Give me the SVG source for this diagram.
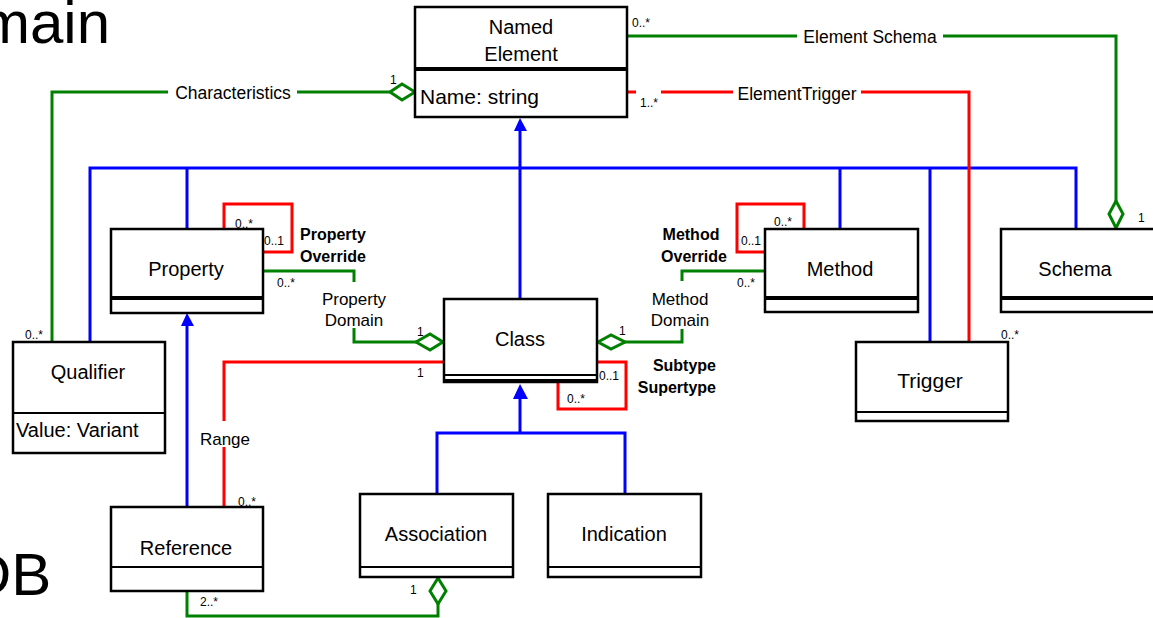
<svg xmlns="http://www.w3.org/2000/svg" width="1153" height="618" viewBox="0 0 1153 618">
<style>
.box{fill:#fff;stroke:#000;stroke-width:2.5}
.div{stroke:#000;stroke-width:4}
.thin{stroke:#000;stroke-width:2}
.n{font-family:"Liberation Sans",Arial,sans-serif;font-size:20px;fill:#000}
.c{text-anchor:middle}
.lbl{font-family:"Liberation Sans",Arial,sans-serif;font-size:17px;fill:#000}
.bold{font-family:"Liberation Sans",Arial,sans-serif;font-size:16px;font-weight:bold;fill:#000}
.m{font-family:"Liberation Sans",Arial,sans-serif;font-size:12px;fill:#000}
.bg{font-family:"Liberation Sans",Arial,sans-serif;font-size:60px;fill:#000}
.g{fill:none;stroke:#008000;stroke-width:3}
.r{fill:none;stroke:#ff0000;stroke-width:3}
.b{fill:none;stroke:#0000ff;stroke-width:3}
.dia{fill:#fff;stroke:#008000;stroke-width:3}
.arr{fill:#0000ff;stroke:none}
</style>

<text class="bg" x="-20" y="43">main</text>
<text class="bg" x="-32" y="595">DB</text>

<g id="connectors">
  <!-- generalization (blue) -->
  <polyline class="b" points="90,342 90,168 1076,168 1076,229"/>
  <line class="b" x1="187" y1="168" x2="187" y2="229"/>
  <line class="b" x1="840" y1="168" x2="840" y2="229"/>
  <line class="b" x1="930" y1="168" x2="930" y2="342"/>
  <line class="b" x1="520" y1="128" x2="520" y2="299"/>
  <polygon class="arr" points="520,118 514,131 527,131"/>
  <line class="b" x1="187" y1="324" x2="187" y2="507"/>
  <polygon class="arr" points="187,313 181,326 194,326"/>
  <polyline class="b" points="437,494 437,433 625,433 625,494"/>
  <line class="b" x1="520" y1="395" x2="520" y2="433"/>
  <polygon class="arr" points="520,384 513,399 528,399"/>

  <!-- Characteristics (green) -->
  <polyline class="g" points="52,342 52,92 168,92"/>
  <line class="g" x1="297" y1="92" x2="392" y2="92"/>
  <polygon class="dia" points="390,92 402,84 415,92 402,100"/>
  <text class="lbl" x="233" y="99" text-anchor="middle" style="font-size:17.5px">Characteristics</text>

  <!-- Element Schema (green) -->
  <line class="g" x1="627" y1="36" x2="797" y2="36"/>
  <polyline class="g" points="943,36 1116,36 1116,203"/>
  <polygon class="dia" points="1116,201 1123,214 1116,228 1109,214"/>
  <text class="lbl" x="870" y="43" text-anchor="middle" style="font-size:17.5px">Element Schema</text>

  <!-- Element Trigger (red) -->
  <line class="r" x1="627" y1="92" x2="636" y2="92"/>
  <line class="r" x1="661" y1="92" x2="733" y2="92"/>
  <polyline class="r" points="861,92 969,92 969,342"/>
  <text class="lbl" x="797" y="100" text-anchor="middle" style="font-size:17.5px">ElementTrigger</text>

  <!-- Property Override (red self loop) -->
  <polyline class="r" points="224,229 224,204 292,204 292,252 263,252"/>
  <!-- Method Override (red self loop) -->
  <polyline class="r" points="804,229 804,204 737,204 737,252 765,252"/>
  <!-- Subtype/Supertype (red self loop on Class) -->
  <polyline class="r" points="597,362 626,362 626,409 558,409 558,383"/>

  <!-- Property Domain (green) -->
  <polyline class="g" points="263,271 354,271 354,282"/>
  <polyline class="g" points="354,328 354,342 418,342"/>
  <polygon class="dia" points="416,342 430,334 443,342 430,350"/>
  <text class="lbl c" x="354" y="305">Property</text>
  <text class="lbl c" x="354" y="326">Domain</text>

  <!-- Method Domain (green) -->
  <polyline class="g" points="765,271 682,271 682,281"/>
  <polyline class="g" points="682,329 682,342 623,342"/>
  <polygon class="dia" points="598,342 611,335 625,342 611,349"/>
  <text class="lbl c" x="680" y="305">Method</text>
  <text class="lbl c" x="680" y="326">Domain</text>

  <!-- Range (red) -->
  <polyline class="r" points="444,362 224,362 224,421"/>
  <line class="r" x1="224" y1="447" x2="224" y2="507"/>
  <text class="lbl c" x="225" y="445">Range</text>

  <!-- Reference - Association (green) -->
  <polyline class="g" points="187,591 187,616 438,616 438,602"/>
  <polygon class="dia" points="438,578 446,591 438,604 430,591"/>

  <!-- bold role labels -->
  <text class="bold" x="300" y="240">Property</text>
  <text class="bold" x="300" y="262">Override</text>
  <text class="bold c" x="691" y="240">Method</text>
  <text class="bold c" x="694" y="262">Override</text>
  <text class="bold" x="716" y="371" text-anchor="end">Subtype</text>
  <text class="bold" x="716" y="393" text-anchor="end">Supertype</text>

  <!-- multiplicities -->
  <text class="m" x="632" y="27">0..*</text>
  <text class="m" x="640" y="107">1..*</text>
  <text class="m" x="390" y="84">1</text>
  <text class="m" x="235" y="228">0..*</text>
  <text class="m" x="264" y="245">0..1</text>
  <text class="m" x="277" y="287">0..*</text>
  <text class="m" x="417" y="336">1</text>
  <text class="m" x="417" y="377">1</text>
  <text class="m" x="741" y="245">0..1</text>
  <text class="m" x="774" y="226">0..*</text>
  <text class="m" x="737" y="287">0..*</text>
  <text class="m" x="619" y="335">1</text>
  <text class="m" x="599" y="380">0..1</text>
  <text class="m" x="567" y="403">0..*</text>
  <text class="m" x="1001" y="339">0..*</text>
  <text class="m" x="1138" y="222">1</text>
  <text class="m" x="25" y="339">0..*</text>
  <text class="m" x="238" y="506">0..*</text>
  <text class="m" x="200" y="606">2..*</text>
  <text class="m" x="410" y="594">1</text>
</g>

<g id="named-element">
  <rect class="box" x="415" y="7" width="212" height="110"/>
  <line class="div" x1="415" y1="69" x2="627" y2="69"/>
  <text class="n c" x="521" y="34">Named</text>
  <text class="n c" x="521" y="61">Element</text>
  <text class="n" x="420" y="104" style="font-size:21px">Name: string</text>
</g>

<g id="property">
  <rect class="box" x="111" y="229" width="152" height="84"/>
  <line class="div" x1="111" y1="298" x2="263" y2="298"/>
  <text class="n c" x="186" y="276">Property</text>
</g>

<g id="class">
  <rect class="box" x="444" y="299" width="153" height="83"/>
  <line class="thin" x1="444" y1="375" x2="597" y2="375"/>
  <line class="div" x1="444" y1="381" x2="597" y2="381"/>
  <text class="n c" x="520" y="346">Class</text>
</g>

<g id="method">
  <rect class="box" x="765" y="229" width="153" height="83"/>
  <line class="div" x1="765" y1="298" x2="918" y2="298"/>
  <text class="n c" x="840" y="276">Method</text>
</g>

<g id="schema">
  <rect class="box" x="1001" y="229" width="170" height="83"/>
  <line class="div" x1="1001" y1="298" x2="1171" y2="298"/>
  <text class="n c" x="1075" y="276">Schema</text>
</g>

<g id="trigger">
  <rect class="box" x="856" y="342" width="152" height="79"/>
  <line class="thin" x1="856" y1="412" x2="1008" y2="412"/>
  <text class="n c" x="930" y="388" style="font-size:21px">Trigger</text>
</g>

<g id="qualifier">
  <rect class="box" x="13" y="342" width="152" height="111"/>
  <line class="thin" x1="13" y1="413" x2="165" y2="413"/>
  <text class="n c" x="88" y="379">Qualifier</text>
  <text class="n" x="16" y="437">Value: Variant</text>
</g>

<g id="reference">
  <rect class="box" x="111" y="507" width="152" height="84"/>
  <line class="thin" x1="111" y1="567" x2="263" y2="567"/>
  <text class="n c" x="186" y="555">Reference</text>
</g>

<g id="association">
  <rect class="box" x="360" y="494" width="153" height="83"/>
  <line class="thin" x1="360" y1="567" x2="513" y2="567"/>
  <text class="n c" x="436" y="541">Association</text>
</g>

<g id="indication">
  <rect class="box" x="548" y="494" width="153" height="83"/>
  <line class="thin" x1="548" y1="567" x2="701" y2="567"/>
  <text class="n c" x="624" y="541">Indication</text>
</g>
</svg>
